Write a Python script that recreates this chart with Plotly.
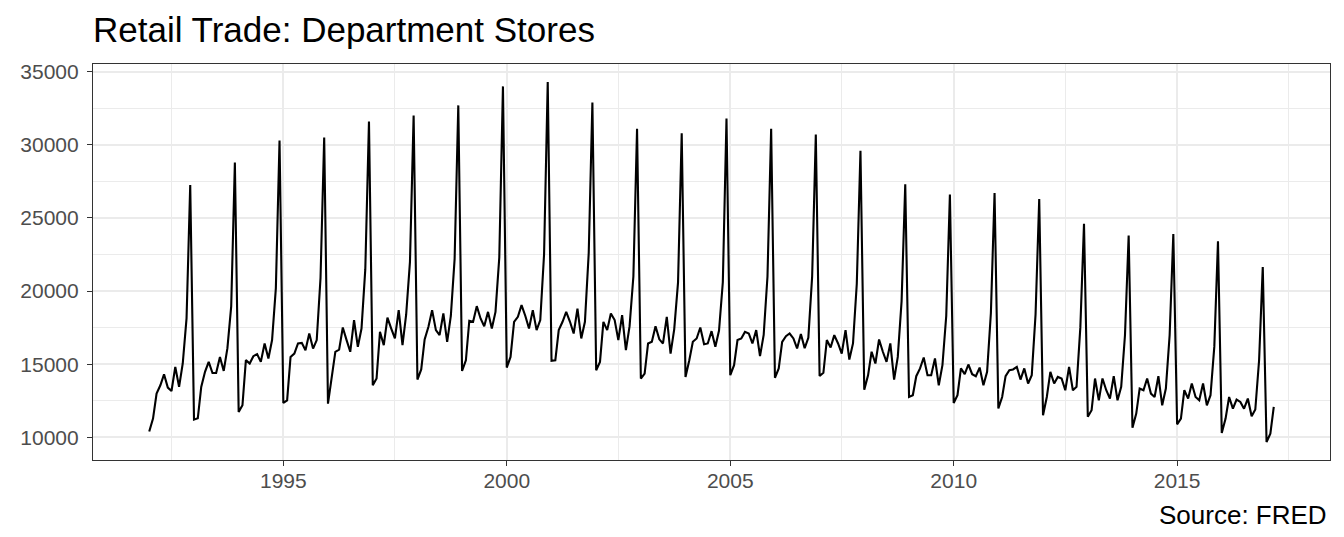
import pandas as pd
import plotly.graph_objects as go

# Monthly values (millions of dollars), Jan..Dec per year
y1992 = [10400, 11280, 12990, 13560, 14310, 13400, 13170, 14820, 13450, 15050, 18130, 27250]
y1993 = [11210, 11300, 13450, 14480, 15160, 14400, 14400, 15500, 14540, 16100, 18950, 28800]
y1994 = [11740, 12190, 15280, 15050, 15550, 15690, 15160, 16420, 15390, 16650, 20200, 30300]
y1995 = [12350, 12530, 15500, 15730, 16420, 16460, 15960, 17100, 16070, 16650, 20900, 30500]
y1996 = [12300, 14000, 15850, 16000, 17510, 16650, 15850, 18020, 16190, 17440, 21500, 31600]
y1997 = [13560, 14020, 17210, 16300, 18180, 17440, 16760, 18700, 16300, 18400, 22000, 32000]
y1998 = [13950, 14640, 16700, 17560, 18700, 17330, 16990, 18470, 16530, 18300, 22200, 32700]
y1999 = [14540, 15270, 17970, 17900, 18970, 18130, 17600, 18580, 17440, 18580, 22300, 34000]
y2000 = [14770, 15500, 17900, 18240, 19040, 18300, 17440, 18700, 17330, 18020, 22500, 34300]
y2001 = [15230, 15270, 17330, 17900, 18580, 17900, 17100, 18800, 16760, 17900, 22600, 32900]
y2002 = [14590, 15160, 17900, 17330, 18470, 18020, 16650, 18360, 15960, 17600, 21000, 31100]
y2003 = [14020, 14360, 16420, 16530, 17600, 16700, 16420, 18240, 15730, 17400, 20600, 30800]
y2004 = [14130, 15270, 16530, 16760, 17510, 16370, 16420, 17260, 16200, 17300, 20600, 31800]
y2005 = [14250, 14930, 16650, 16760, 17210, 17100, 16420, 17330, 15550, 17000, 21000, 31100]
y2006 = [14070, 14710, 16530, 16920, 17100, 16760, 16080, 17060, 16100, 16800, 21000, 30700]
y2007 = [14190, 14410, 16650, 16140, 16990, 16420, 15730, 17330, 15320, 16420, 20500, 29600]
y2008 = [13260, 14240, 15850, 15050, 16690, 15850, 15160, 16420, 13950, 15500, 19300, 27300]
y2009 = [12760, 12880, 14180, 14710, 15460, 14250, 14250, 15390, 13560, 14930, 18300, 26600]
y2010 = [12350, 12880, 14710, 14320, 14980, 14320, 14180, 14770, 13560, 14480, 18500, 26700]
y2011 = [11970, 12760, 14180, 14590, 14640, 14820, 13950, 14710, 13680, 14250, 18400, 26300]
y2012 = [11510, 12760, 14480, 13680, 14130, 14020, 13220, 14820, 13220, 13450, 17500, 24600]
y2013 = [11400, 11850, 14020, 12530, 14020, 13220, 12650, 14180, 12530, 13450, 17000, 23800]
y2014 = [10660, 11620, 13340, 13220, 14020, 12990, 12760, 14180, 12190, 13340, 17000, 23900]
y2015 = [10890, 11280, 13220, 12650, 13680, 12760, 12530, 13680, 12190, 12880, 16200, 23400]
y2016 = [10300, 11280, 12760, 11960, 12580, 12420, 11960, 12650, 11440, 11900, 15270, 21650]
y2017 = [9680, 10250, 12080]

years = [y1992, y1993, y1994, y1995, y1996, y1997, y1998, y1999, y2000, y2001,
         y2002, y2003, y2004, y2005, y2006, y2007, y2008, y2009, y2010, y2011,
         y2012, y2013, y2014, y2015, y2016, y2017]
values = [v for yr in years for v in yr]
dates = pd.date_range("1992-01-01", periods=len(values), freq="MS")

x_ticks = ["1995-01-01", "2000-01-01", "2005-01-01", "2010-01-01", "2015-01-01"]
x_labels = ["1995", "2000", "2005", "2010", "2015"]
y_ticks = [10000, 15000, 20000, 25000, 30000, 35000]
y_labels = ["10000", "15000", "20000", "25000", "30000", "35000"]

title_text = "Retail Trade: Department Stores"
caption_text = "Source: FRED"

fig = go.Figure()
fig.add_trace(go.Scatter(x=dates, y=values, mode="lines",
                         line=dict(color="black", width=2.1), showlegend=False))

# ggplot-like 5% expansion
span_x0 = pd.Timestamp("1992-01-01")
span_x1 = dates[-1]
pad = (span_x1 - span_x0) * 0.05
ymin, ymax = min(values), max(values)
ypad = (ymax - ymin) * 0.05

# page body has an 8px default margin; compensate so the panel lands at x 93..1330, y 64..460
OFF = 8
W, H = 1344, 537
font_fam = "Liberation Sans, Arial, Helvetica, sans-serif"
fig.update_layout(
    width=W, height=H,
    margin=dict(l=93 - OFF, r=14 + OFF, t=64 - OFF, b=77 + OFF),
    plot_bgcolor="white", paper_bgcolor="white",
    font=dict(family=font_fam, color="black"),
    title=dict(text=title_text, x=(93 - OFF) / W, xanchor="left",
               y=1 - (30 - OFF) / H, yanchor="middle",
               font=dict(size=35, color="black", family=font_fam)),
    xaxis=dict(
        type="date", range=[span_x0 - pad, span_x1 + pad],
        tickvals=x_ticks, ticktext=x_labels,
        showgrid=True, gridcolor="#EBEBEB", gridwidth=1.6,
        minor=dict(dtick="M30", tick0="1992-07-01", showgrid=True, gridcolor="#EBEBEB", gridwidth=0.8),
        ticks="outside", ticklen=5, tickcolor="#333333", tickwidth=1.2,
        ticklabelstandoff=-3,
        tickfont=dict(size=21, color="#4D4D4D"),
        showline=True, linecolor="#333333", linewidth=1.2, mirror=True, zeroline=False,
    ),
    yaxis=dict(
        range=[ymin - ypad, ymax + ypad],
        tickvals=y_ticks, ticktext=y_labels,
        showgrid=True, gridcolor="#EBEBEB", gridwidth=1.6,
        minor=dict(tickvals=[12500, 17500, 22500, 27500, 32500], showgrid=True, gridcolor="#EBEBEB", gridwidth=0.8),
        ticks="outside", ticklen=5, tickcolor="#333333", tickwidth=1.2,
        ticklabelstandoff=4,
        tickfont=dict(size=21, color="#4D4D4D"),
        showline=True, linecolor="#333333", linewidth=1.2, mirror=True, zeroline=False,
    ),
    annotations=[dict(text=caption_text, xref="paper", yref="paper", x=1, y=0,
                      xanchor="right", yanchor="middle", xshift=-1, yshift=-(515 - 460),
                      showarrow=False,
                      font=dict(size=26, color="black", family=font_fam))],
)

fig.write_html("out.html")
